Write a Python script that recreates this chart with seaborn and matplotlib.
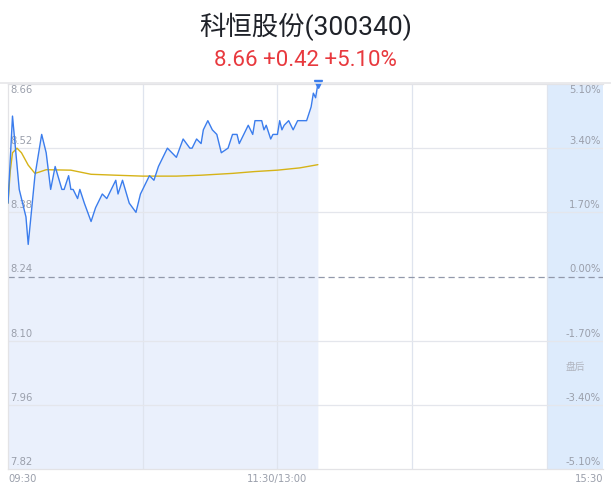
import numpy as np
import pandas as pd
import seaborn as sns
from matplotlib import pyplot as plt
from matplotlib import transforms

# minutes after 09:30 (lunch break removed), price, average price
minutes = [0, 2, 5, 8, 9, 12, 15, 17, 19, 21, 24, 25, 27, 28, 29, 31, 32, 34, 37, 39,
           42, 44, 45, 48, 49, 51, 54, 57, 59, 63, 65, 67, 69, 71, 73, 75, 78, 81, 82, 84,
           86, 87, 89, 91, 93, 95, 98, 100, 102, 103, 105, 106, 107, 109, 110, 113, 114,
           115, 117, 118, 120, 121, 122, 123, 125, 127, 129, 133, 135, 136, 137, 138]
price = [8.40, 8.59, 8.43, 8.37, 8.31, 8.46, 8.55, 8.51, 8.43, 8.48, 8.43, 8.43, 8.46, 8.43,
         8.43, 8.41, 8.43, 8.40, 8.36, 8.39, 8.42, 8.41, 8.42, 8.45, 8.42, 8.45, 8.40, 8.38,
         8.42, 8.46, 8.45, 8.48, 8.50, 8.52, 8.51, 8.50, 8.54, 8.52, 8.52, 8.54, 8.53, 8.56,
         8.58, 8.56, 8.55, 8.51, 8.52, 8.55, 8.55, 8.53, 8.55, 8.56, 8.57, 8.55, 8.58, 8.58,
         8.56, 8.57, 8.54, 8.55, 8.55, 8.58, 8.56, 8.57, 8.58, 8.56, 8.58, 8.58, 8.61, 8.64,
         8.63, 8.66]
avg_minutes = [0, 1, 2, 4, 6, 9, 12, 14, 17, 28, 37, 48, 60, 75, 86, 100, 110, 120, 130, 138]
avg_price = [8.40, 8.47, 8.51, 8.52, 8.51, 8.483, 8.465, 8.468, 8.473, 8.472, 8.463, 8.461,
             8.459, 8.459, 8.461, 8.465, 8.469, 8.472, 8.477, 8.484]

pre_close = 8.24
price_ticks = [8.66, 8.52, 8.38, 8.24, 8.10, 7.96, 7.82]
pct_labels = ['5.10%', '3.40%', '1.70%', '0.00%', '-1.70%', '-3.40%', '-5.10%']
time_labels = ['09:30', '11:30/13:00', '15:30']

sns.set_theme(style="white")
plt.rcParams['font.family'] = ['Noto Sans CJK SC', 'DejaVu Sans']

W, H = 611, 492
fig = plt.figure(figsize=(W / 100, H / 100), dpi=100)
ax = fig.add_axes([8 / W, 23 / H, 595 / W, 385 / H])

df = pd.DataFrame({'t': minutes, 'p': price})
dfa = pd.DataFrame({'t': avg_minutes, 'p': avg_price})

ax.axvspan(240, 265, color='#ddebfc', lw=0, zorder=0)
ax.fill_between(df['t'], df['p'], 7.82, color='#eaf0fc', lw=0, zorder=1)

for v in [60, 120, 180, 240]:
    ax.axvline(v, color='#dfe4ee', lw=0.9, zorder=1.5)
for y in [8.52, 8.38, 8.10, 7.96]:
    ax.axhline(y, color='#e4e6ec', lw=0.9, zorder=1.5)
ax.axhline(pre_close, color='#9299ab', lw=0.9, ls=(0, (5, 3)), zorder=1.6)

sns.lineplot(data=dfa, x='t', y='p', ax=ax, color='#d6b317', lw=1.0, zorder=3)
sns.lineplot(data=df, x='t', y='p', ax=ax, color='#3b7ded', lw=1.0, zorder=4)
ax.plot(minutes[-1], price[-1], marker='v', color='#3b7ded', ms=6, zorder=5, clip_on=False)

ax.set_xlim(0, 265)
ax.set_ylim(7.82, 8.66)
ax.set_xticks([])
ax.set_yticks([])
ax.set_xlabel('')
ax.set_ylabel('')
for s in ax.spines.values():
    s.set_color('#e3e3e6')
    s.set_linewidth(0.9)
ax.spines['right'].set_visible(False)

lab_col = '#9a9fab'
lab_font = dict(fontsize=7.2, color=lab_col, family='DejaVu Sans')
px = transforms.ScaledTranslation(0, 2 / 100, fig.dpi_scale_trans)
for i, (pv, pl) in enumerate(zip(price_ticks, pct_labels)):
    if i == 0:
        va, tr = 'top', ax.transData + transforms.ScaledTranslation(0, -1 / 100, fig.dpi_scale_trans)
    else:
        va, tr = 'bottom', ax.transData + px
    ax.text(1, pv, f'{pv:.2f}', ha='left', va=va, transform=tr, **lab_font)
    ax.text(264, pv, pl, ha='right', va=va, transform=tr, **lab_font)

xt = transforms.blended_transform_factory(ax.transData, ax.transAxes)
ax.text(0, -0.012, time_labels[0], ha='left', va='top', transform=xt, **lab_font)
ax.text(120, -0.012, time_labels[1], ha='center', va='top', transform=xt, **lab_font)
ax.text(265, -0.012, time_labels[2], ha='right', va='top', transform=xt, **lab_font)
ax.text(252.5, 8.043, '盘后', ha='center', va='center', fontsize=7, color='#b0b4be')

# top separator across the figure
fig.add_artist(plt.Line2D([0, 1], [1 - 82.5 / H] * 2, color='#e6e6e9', lw=1.2))

fig.text(0.5, 1 - 27 / H, '科恒股份(300340)', ha='center', va='center',
         fontsize=19, color='#1f2229',
         family=['Roboto', 'Noto Sans CJK SC'])
fig.text(0.5, 1 - 61 / H, '8.66 +0.42 +5.10%', ha='center', va='center',
         fontsize=16, color='#e8393e', family=['Roboto', 'DejaVu Sans'])

fig.savefig('out.png', dpi=100)
